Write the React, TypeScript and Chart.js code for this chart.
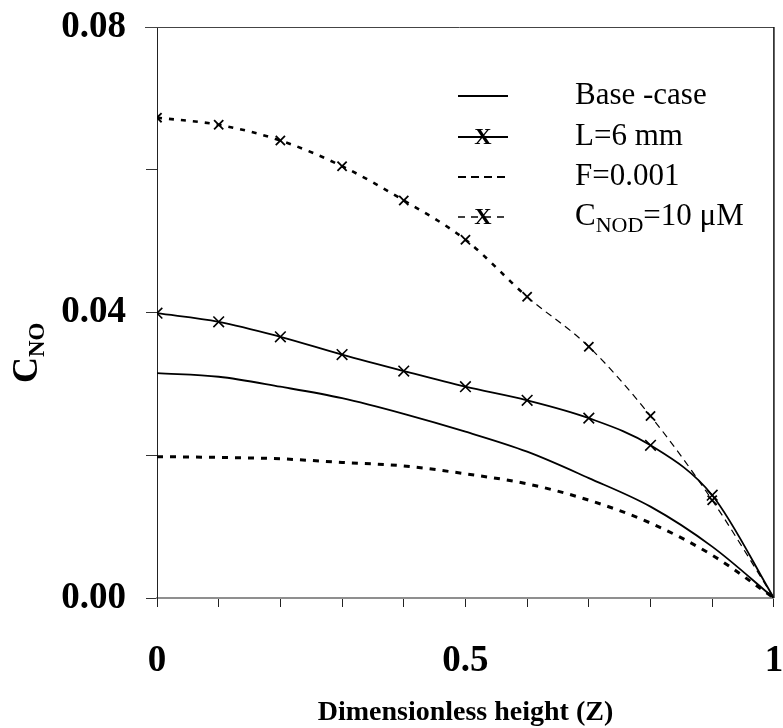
import React, { useEffect, useRef } from 'react';
import { Chart, registerables } from 'chart.js';

Chart.register(...registerables);

// ---- data ----
const zValues = [0, 0.1, 0.2, 0.3, 0.4, 0.5, 0.6, 0.7, 0.8, 0.9, 1.0];
const baseCase = [0.0315, 0.0310, 0.0296, 0.0280, 0.0258, 0.0233, 0.0205, 0.0168, 0.0128, 0.0072, 0.0];
const l6mm = [0.0399, 0.0387, 0.0366, 0.0341, 0.0318, 0.0296, 0.0277, 0.0252, 0.0214, 0.0144, 0.0];
const f0001 = [0.0198, 0.0197, 0.0195, 0.0190, 0.0185, 0.0174, 0.0160, 0.0137, 0.0105, 0.0060, 0.0];
const cnod10 = [0.0673, 0.0663, 0.0641, 0.0605, 0.0557, 0.0502, 0.0422, 0.0352, 0.0255, 0.0137, 0.0];

const xTickLabels = ['0', '0.5', '1'];
const yTickLabels = ['0.00', '0.04', '0.08'];
const xTitle = 'Dimensionless height (Z)';
const yTitleMain = 'C';
const yTitleSub = 'NO';

const legendItems = [
  { main: 'Base -case', sub: '', rest: '' },
  { main: 'L=6 mm', sub: '', rest: '' },
  { main: 'F=0.001', sub: '', rest: '' },
  { main: 'C', sub: 'NOD', rest: '=10 \u03BCM' },
];

const SERIF = '"Liberation Serif", "Times New Roman", serif';

function toPoints(ys: number[]) {
  return zValues.map((z, i) => ({ x: z, y: ys[i] }));
}

function zeroPadding(scale: any) {
  scale.paddingTop = 0;
  scale.paddingBottom = 0;
  scale.paddingLeft = 0;
  scale.paddingRight = 0;
}

const framePlugin = {
  id: 'frame',
  afterDraw(chart: any) {
    const { ctx, chartArea } = chart;
    const { left, right, top, bottom } = chartArea;
    ctx.save();
    ctx.strokeStyle = '#444';
    ctx.lineWidth = 1;
    ctx.beginPath();
    ctx.moveTo(left - 12, top + 0.5);
    ctx.lineTo(right, top + 0.5);
    ctx.stroke();
    ctx.strokeStyle = '#111';
    ctx.lineWidth = 1.5;
    ctx.beginPath();
    ctx.moveTo(right, top);
    ctx.lineTo(right, bottom);
    ctx.stroke();
    ctx.restore();
  },
};

const yTitlePlugin = {
  id: 'yTitle',
  afterDraw(chart: any) {
    const { ctx } = chart;
    ctx.save();
    ctx.fillStyle = '#000';
    ctx.translate(37, 383);
    ctx.rotate(-Math.PI / 2);
    ctx.textBaseline = 'alphabetic';
    ctx.textAlign = 'left';
    ctx.font = `bold 36px ${SERIF}`;
    ctx.fillText(yTitleMain, 0, 0);
    const w = ctx.measureText(yTitleMain).width;
    ctx.font = `bold 23px ${SERIF}`;
    ctx.fillText(yTitleSub, w, 7);
    ctx.restore();
  },
};

const legendPlugin = {
  id: 'customLegend',
  afterDraw(chart: any) {
    const { ctx } = chart;
    const x0 = 458;
    const x1 = 508;
    const tx = 575;
    const rows = [96, 137, 177, 217];
    ctx.save();
    ctx.strokeStyle = '#000';
    ctx.fillStyle = '#000';
    legendItems.forEach((item, i) => {
      const y = rows[i];
      ctx.beginPath();
      if (i === 0 || i === 1) {
        ctx.lineWidth = 2;
        ctx.setLineDash([]);
      } else if (i === 2) {
        ctx.lineWidth = 2.2;
        ctx.setLineDash([8, 5]);
      } else {
        ctx.lineWidth = 1.6;
        ctx.setLineDash([7, 6]);
      }
      ctx.moveTo(x0, y);
      ctx.lineTo(x1, y);
      ctx.stroke();
      ctx.setLineDash([]);
      if (i === 1 || i === 3) {
        ctx.font = `bold 24px ${SERIF}`;
        ctx.textAlign = 'center';
        ctx.textBaseline = 'middle';
        ctx.fillText('X', (x0 + x1) / 2, y + 1);
      }
      ctx.textAlign = 'left';
      ctx.textBaseline = 'middle';
      ctx.font = `31px ${SERIF}`;
      ctx.fillText(item.main, tx, y);
      if (item.sub) {
        let cx = tx + ctx.measureText(item.main).width;
        ctx.font = `22px ${SERIF}`;
        ctx.fillText(item.sub, cx, y + 9);
        cx += ctx.measureText(item.sub).width;
        ctx.font = `31px ${SERIF}`;
        ctx.fillText(item.rest, cx, y);
      }
    });
    ctx.restore();
  },
};

export default function App() {
  const canvasRef = useRef<HTMLCanvasElement | null>(null);

  useEffect(() => {
    if (!canvasRef.current) return;
    const chart = new Chart(canvasRef.current, {
      type: 'line',
      data: {
        datasets: [
          {
            label: 'Base -case',
            data: toPoints(baseCase),
            borderColor: '#000',
            borderWidth: 1.8,
            pointRadius: 0,
            cubicInterpolationMode: 'monotone',
          },
          {
            label: 'L=6 mm',
            data: toPoints(l6mm),
            borderColor: '#000',
            borderWidth: 1.8,
            pointStyle: 'crossRot',
            pointRadius: 7.5,
            pointBorderWidth: 1.6,
            pointBorderColor: '#000',
            cubicInterpolationMode: 'monotone',
          },
          {
            label: 'F=0.001',
            data: toPoints(f0001),
            borderColor: '#000',
            borderWidth: 3,
            borderDash: [6, 7],
            pointRadius: 0,
            cubicInterpolationMode: 'monotone',
          },
          {
            label: 'CNOD=10 uM',
            data: toPoints(cnod10),
            borderColor: '#000',
            borderWidth: 2.6,
            borderDash: [5, 7],
            pointStyle: 'crossRot',
            pointRadius: 6.5,
            pointBorderWidth: 1.8,
            pointBorderColor: '#000',
            cubicInterpolationMode: 'monotone',
            segment: {
              borderWidth: (c: any) => (c.p0.parsed.x >= 0.59 ? 1.2 : 2.6),
              borderDash: (c: any) => (c.p0.parsed.x >= 0.59 ? [7, 5] : [5, 7]),
            },
          },
        ],
      },
      options: {
        responsive: false,
        animation: false,
        devicePixelRatio: 1,
        layout: { padding: { left: 0, right: 9, top: 27, bottom: 0 } },
        plugins: {
          legend: { display: false },
          tooltip: { enabled: false },
        },
        scales: {
          x: {
            type: 'linear',
            min: 0,
            max: 1,
            afterFit: (scale: any) => {
              scale.height = 130;
              zeroPadding(scale);
            },
            border: { color: '#8f8f8f', width: 2 },
            grid: {
              drawOnChartArea: false,
              drawTicks: true,
              tickLength: 9,
              color: '#222',
              lineWidth: 1,
            },
            ticks: {
              stepSize: 0.1,
              autoSkip: false,
              maxRotation: 0,
              padding: 32,
              color: '#000',
              font: { family: SERIF, size: 37, weight: 'bold' },
              callback: (v: any) => {
                const n = Number(v);
                if (Math.abs(n) < 1e-9) return xTickLabels[0];
                if (Math.abs(n - 0.5) < 1e-9) return xTickLabels[1];
                if (Math.abs(n - 1) < 1e-9) return xTickLabels[2];
                return '';
              },
            },
            title: {
              display: true,
              text: xTitle,
              color: '#000',
              font: { family: SERIF, size: 28, weight: 'bold' },
              padding: { top: 0, bottom: -2 },
            },
          },
          y: {
            type: 'linear',
            min: 0,
            max: 0.08,
            afterFit: (scale: any) => {
              scale.width = 157;
              zeroPadding(scale);
            },
            border: { color: '#222', width: 1 },
            grid: {
              drawOnChartArea: false,
              drawTicks: true,
              tickLength: 11,
              color: '#333',
              lineWidth: 1,
            },
            ticks: {
              stepSize: 0.02,
              autoSkip: false,
              padding: 20,
              color: '#000',
              font: { family: SERIF, size: 37, weight: 'bold' },
              callback: (v: any) => {
                const n = Number(v);
                if (Math.abs(n) < 1e-9) return yTickLabels[0];
                if (Math.abs(n - 0.04) < 1e-9) return yTickLabels[1];
                if (Math.abs(n - 0.08) < 1e-9) return yTickLabels[2];
                return '';
              },
            },
          },
        },
      },
      plugins: [framePlugin, yTitlePlugin, legendPlugin],
    } as any);
    return () => chart.destroy();
  }, []);

  return (
    <div style={{ position: 'fixed', left: 0, top: 0, width: 783, height: 728, background: '#fff' }}>
      <canvas ref={canvasRef} width={783} height={728} style={{ width: 783, height: 728, display: 'block' }} />
    </div>
  );
}
